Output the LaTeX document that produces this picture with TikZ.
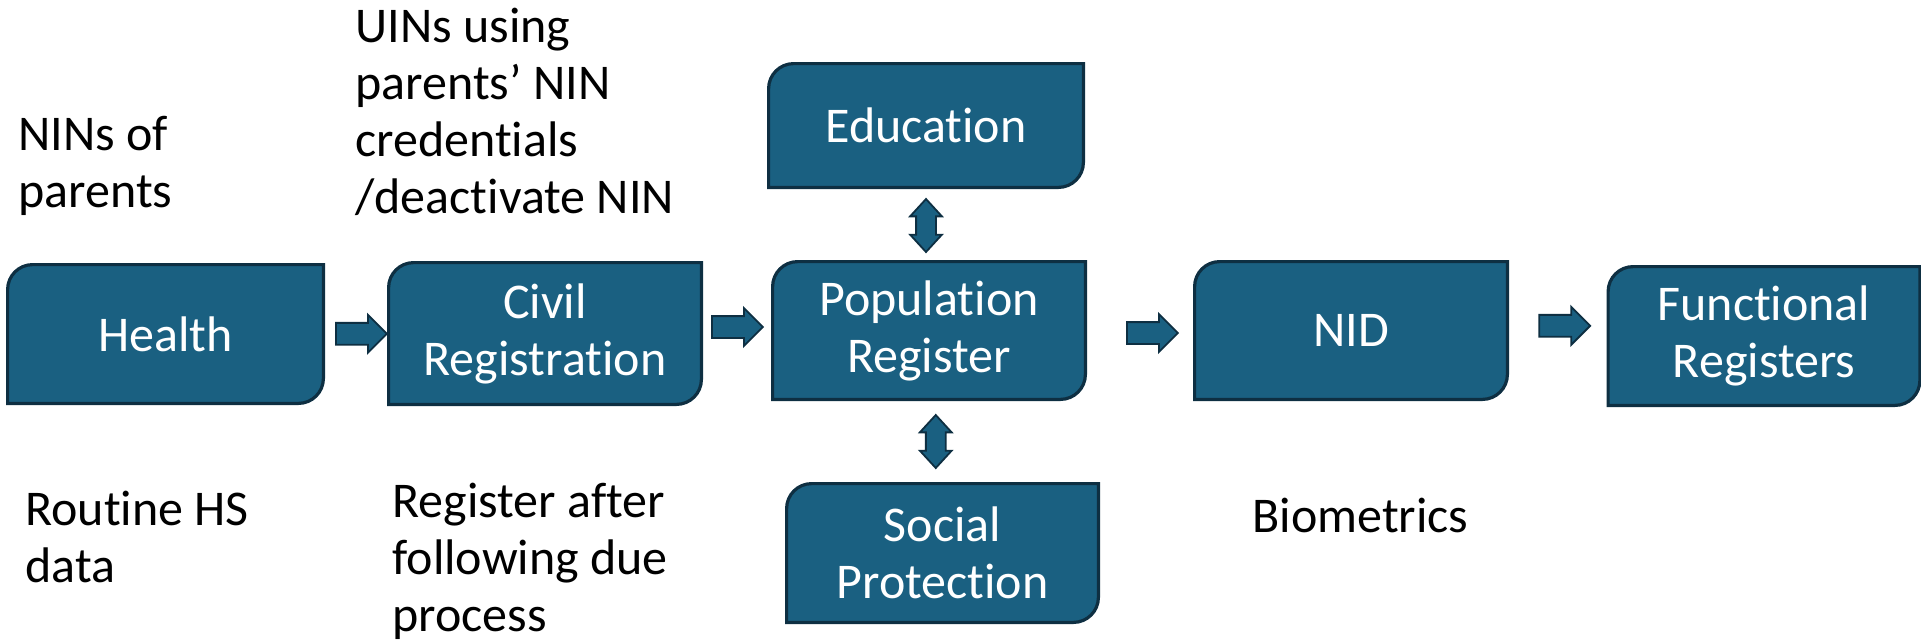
\documentclass[tikz,border=0pt]{standalone}
\usepackage{fontspec}
\setmainfont{Carlito}[Ligatures=NoCommon]
\usetikzlibrary{shapes.arrows,backgrounds,calc}

\definecolor{boxfill}{HTML}{1A6081}
\definecolor{boxedge}{HTML}{0E2F42}

\begin{document}
\begin{tikzpicture}
[x=0.5pt, y=-0.5pt,
 every node/.style={font=\fontsize{25}{28.5}\selectfont},
 regbox/.style={rectangle, draw=none, text=white, align=center, inner sep=0pt},
 boxline/.style={draw=boxedge, fill=boxfill, line width=1.6pt},
 notenode/.style={anchor=west, align=left, inner sep=0pt},
 fatarrow/.style={single arrow, draw=boxedge, fill=boxfill, line width=0.9pt,
   inner sep=0pt, inner ysep=5pt, minimum height=25.5pt, minimum width=18pt,
   single arrow head extend=4pt},
 twoarrow/.style={double arrow, draw=boxedge, fill=boxfill, line width=0.9pt,
   inner sep=0pt, inner ysep=4.5pt, minimum height=26.5pt, minimum width=15pt,
   double arrow head extend=3pt, double arrow tip angle=85, rotate=90}]
\useasboundingbox (0,0) rectangle (1921,643);
% register boxes
\node[regbox, minimum width=157.5pt, minimum height=69pt]	(health) at (165.5,334)	{Health};
\node[regbox, minimum width=156pt, minimum height=70.5pt]	(civil)	 at (545,333.5)	{Civil\\Registration};
\node[regbox, minimum width=157pt, minimum height=61.5pt]	(edu)	 at (926,125.5)	{Education};
\node[regbox, minimum width=156pt, minimum height=68.5pt]	(pop)	 at (929,330.5)	{Population\\Register};
\node[regbox, minimum width=155.5pt, minimum height=69pt]	(social) at (942.5,553)	{Social\\Protection};
\node[regbox, minimum width=156pt, minimum height=68.5pt]	(nid)	 at (1351,330.5)	{NID};
\node[regbox, minimum width=155.5pt, minimum height=69pt]	(func)	 at (1764,336)	{Functional\\Registers};
\begin{scope}[on background layer]
\foreach \b in {health,civil,edu,pop,social,nid,func}
  \draw[boxline] (\b.north east) -- ([xshift=12.5pt]\b.north west)
    arc[start angle=90, end angle=180, radius=12.5pt] -- (\b.south west)
    -- ([xshift=-12.5pt]\b.south east)
    arc[start angle=270, end angle=360, radius=12.5pt] -- cycle;
\end{scope}
% block arrows
\node[fatarrow] (a1) at ($(health.east)!0.5!(civil.west)$) {};
\node[fatarrow] (a2) at ($(civil.east)!0.5!(pop.west)+(-5,-5)$) {};
\node[fatarrow] (a3) at ($(pop.east)!0.5!(nid.west)+(7,2.5)$) {};
\node[fatarrow] (a4) at ($(nid.east)!0.5!(func.west)+(1.5,-7.5)$) {};
\node[twoarrow] (d1) at ($(edu.south)!0.5!(pop.north)+(-1.5,1)$) {};
\node[twoarrow] (d2) at ($(pop.south)!0.5!(social.north)$) {};
% notes
\node[notenode] (lblparents)    at (18,165.5)	{NINs of\\parents};
\node[notenode] (lbluins)       at (355,111.5)	{UINs using\\parents’ NIN\\credentials\\/deactivate NIN};
\node[notenode] (lblroutine)    at (25,537)	{Routine HS\\data};
\node[notenode] (lblregister)   at (392,561.5)	{Register after\\following due\\process};
\node[notenode] (lblbiometrics) at (1252,515)	{Biometrics};
\end{tikzpicture}
\end{document}
